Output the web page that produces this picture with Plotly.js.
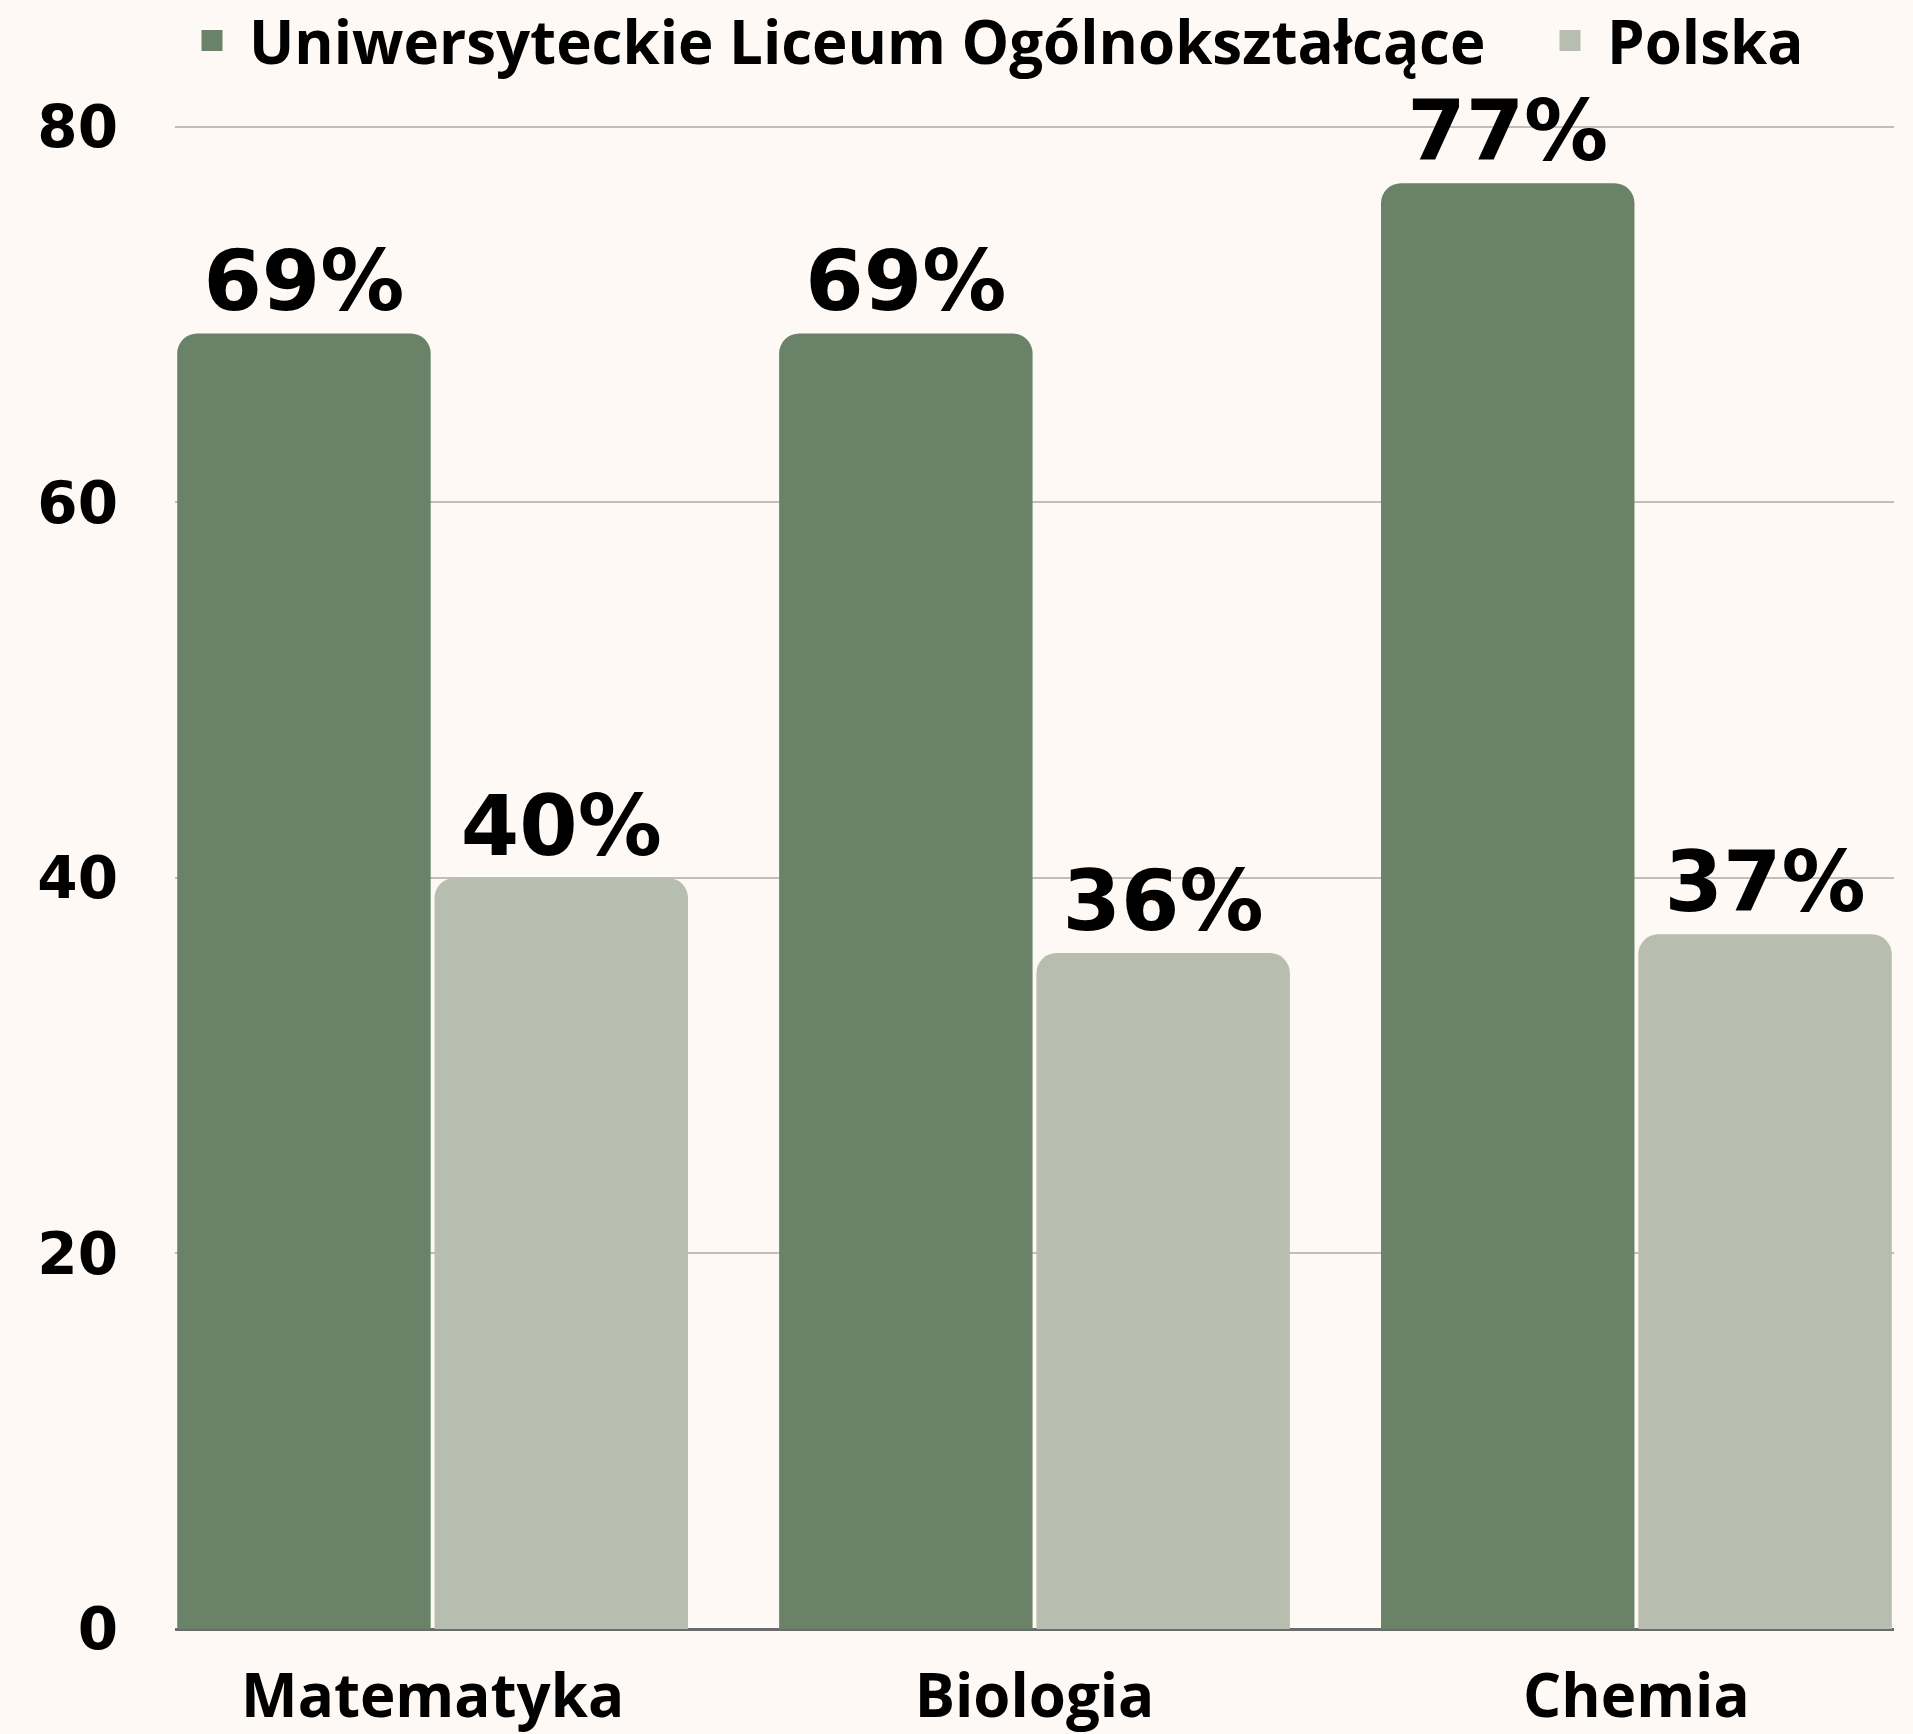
<!DOCTYPE html>
<html>
<head>
<meta charset="utf-8">
<script src="https://cdn.plot.ly/plotly-3.0.1.min.js"></script>
<style>
  html, body { margin: 0; padding: 0; background: #fef9f4; }
  #chart { width: 1913px; height: 1734px; }
</style>
</head>
<body>
<div id="chart"></div>
<script>
const categories = ["Matematyka", "Biologia", "Chemia"];
const seriesNames = ["Uniwersyteckie Liceum Ogólnokształcące", "Polska"];
const schoolValues = [69, 69, 77];
const polandValues = [40, 36, 37];
const yTickValues = [0, 20, 40, 60, 80];
const seriesColors = ["#6a8268", "#b7bdaf"];

const numFont = "'DejaVu Sans', Inter, sans-serif";
const textFont = "'Open Sans', Lato, sans-serif";

function labels(vals) { return vals.map(v => v + "%"); }

function barTrace(i, vals) {
  return {
    type: "bar",
    name: seriesNames[i],
    x: categories,
    y: vals,
    text: labels(vals),
    textposition: "outside",
    cliponaxis: false,
    textfont: { family: numFont, size: 84, color: "#000000", weight: 700 },
    marker: { color: seriesColors[i], cornerradius: 20 },
    showlegend: false,
    hoverinfo: "x+y"
  };
}

// legend-only proxies (larger legend squares, one legend each)
function legendProxy(i, legendId) {
  return {
    type: "scatter",
    mode: "markers",
    name: seriesNames[i],
    x: [null],
    y: [null],
    legend: legendId,
    marker: { symbol: "square", size: 16, color: seriesColors[i],
              line: { width: 5, color: seriesColors[i] } },
    showlegend: true,
    hoverinfo: "skip"
  };
}

const traces = [
  barTrace(0, schoolValues),
  barTrace(1, polandValues),
  legendProxy(0, "legend"),
  legendProxy(1, "legend2")
];

const legendFont = { family: textFont, size: 60, color: "#000000", weight: 700 };

const layout = {
  width: 1913,
  height: 1734,
  paper_bgcolor: "#fef9f4",
  plot_bgcolor: "#fef9f4",
  margin: { l: 175, r: 19, t: 125, b: 105, pad: 0, autoexpand: false },
  barmode: "group",
  bargap: 0.145,
  bargroupgap: 0.015,
  showlegend: true,
  legend: {
    orientation: "h",
    x: 0.0, xanchor: "left",
    y: 1.0864, yanchor: "top",
    font: legendFont,
    itemsizing: "trace",
    itemwidth: 64,
    bgcolor: "rgba(0,0,0,0)"
  },
  legend2: {
    orientation: "h",
    x: 0.790, xanchor: "left",
    y: 1.0864, yanchor: "top",
    font: legendFont,
    itemsizing: "trace",
    itemwidth: 64,
    bgcolor: "rgba(0,0,0,0)"
  },
  xaxis: {
    type: "category",
    range: [-0.428, 2.428],
    showgrid: false,
    zeroline: false,
    showline: false,
    ticks: "",
    ticklabelstandoff: 27,
    tickfont: { family: textFont, size: 60, color: "#000000", weight: 700 },
    fixedrange: true
  },
  yaxis: {
    range: [0, 80.1],
    tickvals: yTickValues,
    ticktext: yTickValues.map(String),
    showgrid: true,
    gridcolor: "#c2bdb8",
    gridwidth: 1.5,
    zeroline: true,
    zerolinecolor: "#6b6b6b",
    zerolinewidth: 2.5,
    showline: false,
    ticks: "",
    ticklabelstandoff: 56,
    tickfont: { family: numFont, size: 58, color: "#000000", weight: 700 },
    fixedrange: true
  }
};

Plotly.newPlot("chart", traces, layout, { displayModeBar: false, responsive: false });
</script>
</body>
</html>
